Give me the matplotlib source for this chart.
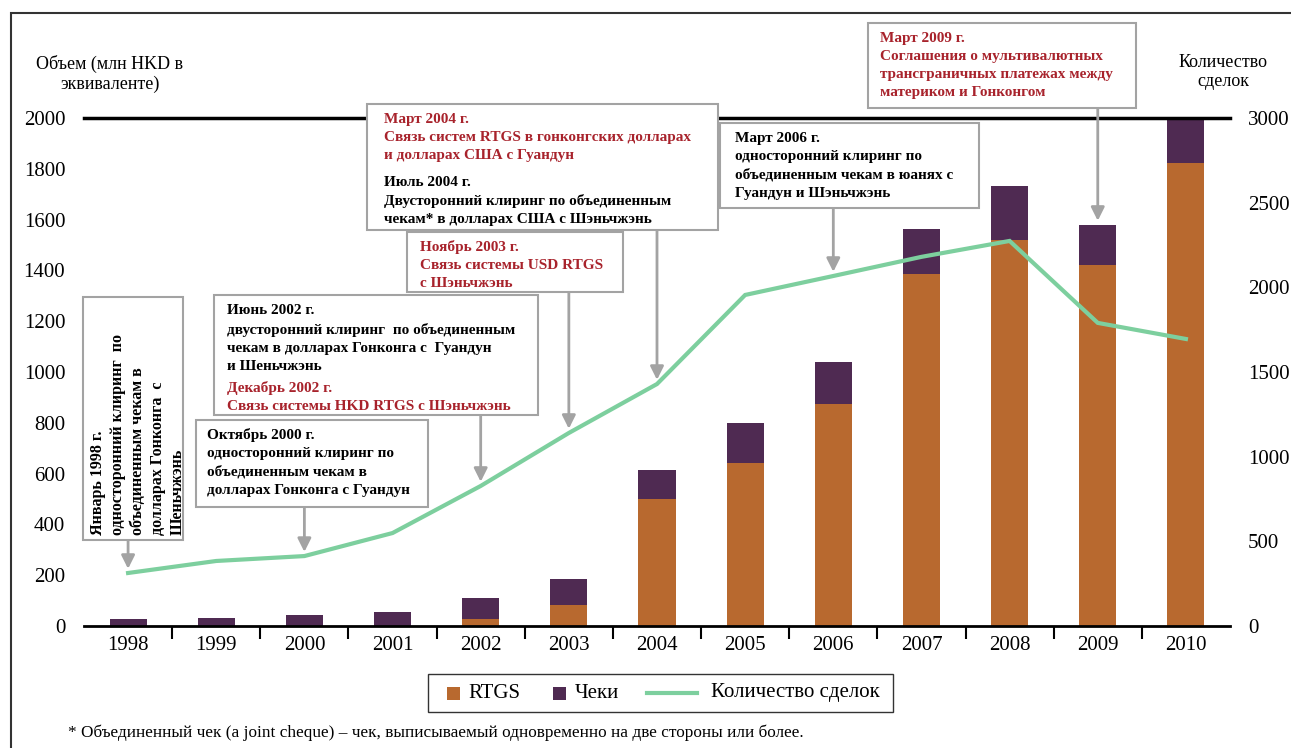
import numpy as np
import matplotlib
matplotlib.use('Agg')
import matplotlib.pyplot as plt
from matplotlib.patches import Rectangle
from matplotlib.lines import Line2D

plt.rc('font', family='Liberation Serif')

years = ['1998', '1999', '2000', '2001', '2002', '2003', '2004',
         '2005', '2006', '2007', '2008', '2009', '2010']
rtgs = [0, 0, 0, 0, 27, 82, 500, 642, 874, 1386, 1520, 1421, 1823]
cheques = [27, 33, 43, 57, 85, 105, 114, 157, 165, 177, 212, 158, 169]
deals = [313, 384, 413, 549, 827, 1140, 1429, 1955, 2067, 2180, 2274, 1790, 1695]

c_rtgs = '#b8692f'
c_chq = '#4f2a52'
c_line = '#7dcf9e'
c_red = '#a8232c'
c_box = '#a3a3a3'

W, H = 1291, 748
def fx(px):
    return px / W
def fy(py):
    return 1 - py / H

fig = plt.figure(figsize=(W / 100, H / 100), dpi=100)
ax = fig.add_axes([fx(84), fy(626), (1230 - 84) / W, (626 - 118) / H])
x = np.arange(len(years))

ax.bar(x, rtgs, width=0.42, color=c_rtgs, edgecolor='none')
ax.bar(x, cheques, width=0.42, bottom=rtgs, color=c_chq, edgecolor='none')
ax.set_xlim(-0.5, len(years) - 0.5)
ax.set_ylim(0, 2000)
ax.set_yticks(range(0, 2001, 200))
ax.set_xticks(x)
ax.set_xticklabels(years)
ax.set_xticks(x[:-1] + 0.5, minor=True)
ax.tick_params(axis='y', length=0, labelsize=15, pad=13.5)
ax.tick_params(axis='x', which='major', length=0, labelsize=15, pad=7)
ax.tick_params(axis='x', which='minor', length=9, width=1.5, direction='out')
for s in ['left', 'right']:
    ax.spines[s].set_visible(False)
ax.spines['bottom'].set_linewidth(2)
ax.spines['top'].set_linewidth(2.5)

ax2 = ax.twinx()
ax2.plot(x, deals, color=c_line, lw=3, solid_joinstyle='miter')
ax2.set_ylim(0, 3000)
ax2.set_yticks(range(0, 3001, 500))
ax2.tick_params(axis='y', length=0, labelsize=15, pad=13)
for s in ax2.spines.values():
    s.set_visible(False)

# axis titles
fig.text(fx(110), fy(74), 'Объем (млн HKD в\nэквиваленте)', ha='center', va='center',
         fontsize=13, linespacing=1.2)
fig.text(fx(1223), fy(72), 'Количество\nсделок', ha='center', va='center',
         fontsize=13, linespacing=1.2)

# outer frame
fig.add_artist(Rectangle((fx(11), -0.1), 1.2, fy(13) + 0.1, transform=fig.transFigure,
                         fill=False, edgecolor='#333333', lw=1.5, clip_on=False))

# annotation boxes: (left, top, right, bottom) in pixels
def box(l, t, r, b):
    fig.add_artist(Rectangle((fx(l), fy(b)), (r - l) / W, (b - t) / H,
                             transform=fig.transFigure, facecolor='white',
                             edgecolor=c_box, lw=1.5))

def txt(px, py, s, color='black', **kw):
    fig.text(fx(px), fy(py), s, color=color, fontsize=11, fontweight='bold',
             ha='left', va='top', linespacing=1.5, **kw)

arrow = dict(arrowstyle='-|>', color=c_box, lw=2, mutation_scale=20,
             shrinkA=0, shrinkB=3)

# Jan 1998
box(83, 297, 183, 540)
fig.text(fx(90), fy(535), 'Январь 1998 г.\nодносторонний клиринг  по\nобъединенным чекам в\n'
         'долларах Гонконга  с\nШеньчжэнь', rotation=90, fontsize=11.5, fontweight='bold',
         ha='left', va='bottom', multialignment='left', linespacing=1.33)
ax2.annotate('', xy=(0, deals[0]), xytext=(0, fy(540)),
             textcoords=('data', 'figure fraction'), arrowprops=arrow)

# Oct 2000
box(196, 420, 428, 507)
txt(207, 428, 'Октябрь 2000 г.\nодносторонний клиринг по\nобъединенным чекам в\n'
    'долларах Гонконга с Гуандун')
ax2.annotate('', xy=(2, deals[2]), xytext=(2, fy(507)),
             textcoords=('data', 'figure fraction'), arrowprops=arrow)

# Jun 2002 / Dec 2002
box(214, 295, 538, 415)
txt(227, 304, 'Июнь 2002 г.\nдвусторонний клиринг  по объединенным\n'
    'чекам в долларах Гонконга с  Гуандун\nи Шеньчжэнь')
txt(227, 381, 'Декабрь 2002 г.\nСвязь системы HKD RTGS с Шэньчжэнь', color=c_red)
ax2.annotate('', xy=(4, deals[4]), xytext=(4, fy(415)),
             textcoords=('data', 'figure fraction'), arrowprops=arrow)

# Nov 2003
box(407, 232, 623, 292)
txt(420, 240, 'Ноябрь 2003 г.\nСвязь системы USD RTGS\nс Шэньчжэнь', color=c_red)
ax2.annotate('', xy=(5, deals[5]), xytext=(5, fy(292)),
             textcoords=('data', 'figure fraction'), arrowprops=arrow)

# Mar 2004 / Jul 2004
box(367, 104, 718, 230)
txt(384, 113, 'Март 2004 г.\nСвязь систем RTGS в гонконгских долларах\n'
    'и долларах США с Гуандун', color=c_red)
txt(384, 176, 'Июль 2004 г.\nДвусторонний клиринг по объединенным\n'
    'чекам* в долларах США с Шэньчжэнь')
ax2.annotate('', xy=(6, deals[6]), xytext=(6, fy(230)),
             textcoords=('data', 'figure fraction'), arrowprops=arrow)

# Mar 2006
box(720, 123, 979, 208)
txt(735, 132, 'Март 2006 г.\nодносторонний клиринг по\nобъединенным чекам в юанях с\n'
    'Гуандун и Шэньчжэнь')
ax2.annotate('', xy=(8, deals[8]), xytext=(8, fy(208)),
             textcoords=('data', 'figure fraction'), arrowprops=arrow)

# Mar 2009
box(868, 23, 1136, 108)
txt(880, 32, 'Март 2009 г.\nСоглашения о мультивалютных\nтрансграничных платежах между\n'
    'материком и Гонконгом', color=c_red)
ax.annotate('', xy=(11, rtgs[11] + cheques[11]), xytext=(11, fy(108)),
            textcoords=('data', 'figure fraction'), arrowprops=arrow)

# legend
fig.add_artist(Rectangle((fx(428), fy(712)), (893 - 428) / W, (712 - 674) / H,
                         transform=fig.transFigure, fill=False, edgecolor='#333333', lw=1))
fig.add_artist(Rectangle((fx(447), fy(700)), 13 / W, 13 / H, transform=fig.transFigure,
                         facecolor=c_rtgs, edgecolor='none'))
fig.text(fx(468), fy(693), 'RTGS', fontsize=15, va='center')
fig.add_artist(Rectangle((fx(553), fy(700)), 13 / W, 13 / H, transform=fig.transFigure,
                         facecolor=c_chq, edgecolor='none'))
fig.text(fx(575), fy(693), 'Чеки', fontsize=15, va='center')
fig.add_artist(Line2D([fx(647), fx(697)], [fy(693), fy(693)], transform=fig.transFigure,
                      color=c_line, lw=3))
fig.text(fx(711), fy(693), 'Количество сделок', fontsize=15, va='center')

# footnote
fig.text(fx(68), fy(733), '* Объединенный чек (a joint cheque) – чек, выписываемый '
         'одновременно на две стороны или более.', fontsize=12.4, va='center')

plt.savefig('out.png', dpi=100)
